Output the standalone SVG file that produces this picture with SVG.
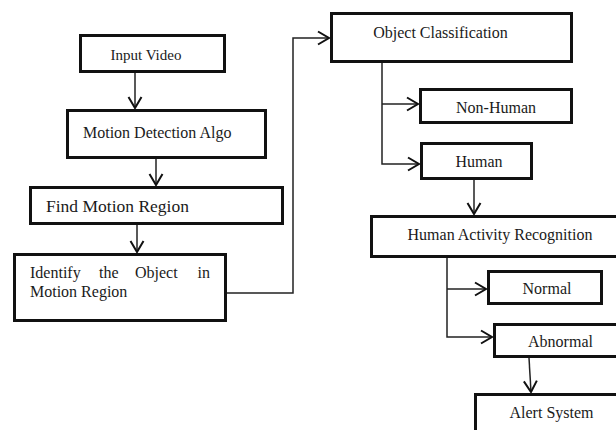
<svg xmlns="http://www.w3.org/2000/svg" width="616" height="430" viewBox="0 0 616 430">
<style>
.box{fill:#fff;stroke:#111;stroke-width:3}
.t{font-family:"Liberation Serif","Times New Roman",serif;font-size:16px;fill:#1a1a1a}
.c{fill:none;stroke:#222;stroke-width:1.5}
.a{marker-end:url(#arr)}
</style>
<defs>
<marker id="arr" markerUnits="userSpaceOnUse" markerWidth="16" markerHeight="16" viewBox="-13 -8 16 16" refX="0" refY="0" orient="auto" overflow="visible">
<path d="M-11,-6.5 L0,0 L-11,6.5" fill="none" stroke="#111" stroke-width="2"/>
</marker>
</defs>
<rect width="616" height="430" fill="#fff"/>
<g id="connectors">
<path class="c a" d="M135,73 V108"/>
<path class="c a" d="M156,159 V185"/>
<path class="c a" d="M137,225 V252"/>
<path class="c a" d="M227,293 H293 V38 H329"/>
<path class="c a" d="M382,63 V164 H419"/>
<path class="c a" d="M382,104 H418"/>
<path class="c a" d="M474,180 V214"/>
<path class="c a" d="M447,258 V337 H492"/>
<path class="c a" d="M447,289 H486"/>
<path class="c a" d="M529,358 L531,392"/>
</g>
<g id="input-video">
<rect class="box" x="80.5" y="35.5" width="144" height="36"/>
<text class="t" x="146" y="60" text-anchor="middle" style="font-size:15px">Input Video</text>
</g>
<g id="motion-detection">
<rect class="box" x="67.5" y="110.5" width="198" height="47"/>
<text class="t" x="83" y="138">Motion Detection Algo</text>
</g>
<g id="find-motion-region">
<rect class="box" x="30.5" y="187.5" width="252" height="36"/>
<text class="t" x="46" y="212" style="font-size:17.5px">Find Motion Region</text>
</g>
<g id="identify-object">
<rect class="box" x="14.5" y="254.5" width="211" height="66"/>
<text class="t" x="30" y="278">Identify</text>
<text class="t" x="99" y="278">the</text>
<text class="t" x="135" y="278">Object</text>
<text class="t" x="210" y="278" text-anchor="end">in</text>
<text class="t" x="30" y="297">Motion Region</text>
</g>
<g id="object-classification">
<rect class="box" x="331.5" y="13.5" width="240" height="48"/>
<text class="t" x="440.5" y="38" text-anchor="middle">Object Classification</text>
</g>
<g id="non-human">
<rect class="box" x="420.5" y="89.5" width="151" height="33"/>
<text class="t" x="496" y="113" text-anchor="middle">Non-Human</text>
</g>
<g id="human">
<rect class="box" x="421.5" y="143.5" width="110" height="35"/>
<text class="t" x="479" y="167" text-anchor="middle">Human</text>
</g>
<g id="human-activity-recognition">
<rect class="box" x="371.5" y="216.5" width="260" height="40"/>
<text class="t" x="500" y="240" text-anchor="middle">Human Activity Recognition</text>
</g>
<g id="normal">
<rect class="box" x="488.5" y="271.5" width="113" height="32"/>
<text class="t" x="547" y="294" text-anchor="middle">Normal</text>
</g>
<g id="abnormal">
<rect class="box" x="494.5" y="324.5" width="140" height="32"/>
<text class="t" x="560.5" y="347" text-anchor="middle">Abnormal</text>
</g>
<g id="alert-system">
<rect class="box" x="475.5" y="394.5" width="160" height="50"/>
<text class="t" x="551.5" y="418" text-anchor="middle">Alert System</text>
</g>
</svg>
